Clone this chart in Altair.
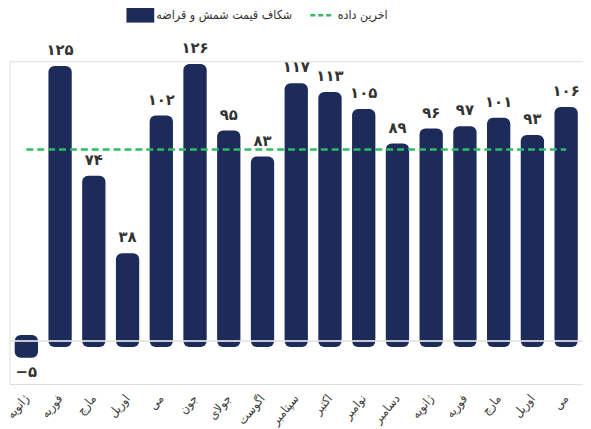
import json
import altair as alt
import pandas as pd

months = ["ژانویه", "فوریه", "مارچ", "اوریل", "می", "جون", "جولای", "اگوست",
          "سپتامبر", "اکتبر", "نوامبر", "دسامبر", "ژانویه", "فوریه", "مارچ", "اوریل", "می"]
gap_values = [-5, 125, 74, 38, 102, 126, 95, 83, 117, 113, 105, 89, 96, 97, 101, 93, 106]
latest_level = [89]
series_name = "شکاف قیمت شمش و قراضه"
latest_name = "اخرین داده"

NAVY = "#1c2b5a"
GREEN = "#2dbe60"
FONT = "DejaVu Sans"
COND_FONT = "DejaVu Sans Condensed, DejaVu Sans"

FA = str.maketrans("0123456789-", "۰۱۲۳۴۵۶۷۸۹−")


def fa(v):
    return str(v).translate(FA)


df = pd.DataFrame({
    "idx": list(range(len(months))),
    "month": months,
    "value": gap_values,
    "label": [fa(v) for v in gap_values],
    "series": [series_name] * len(months),
})
line_df = pd.DataFrame({
    "start": [0], "end": [len(months) - 1],
    "level": latest_level, "series": [latest_name],
})
zero_df = pd.DataFrame({"zero": [0]})

label_expr = json.dumps(months, ensure_ascii=False) + "[datum.value]"

x_enc = alt.X("idx:O",
              scale=alt.Scale(paddingInner=0.31, paddingOuter=0.155),
              axis=alt.Axis(title=None, labelExpr=label_expr, labelAngle=-50,
                            labelAlign="right", labelBaseline="middle",
                            labelPadding=12, ticks=False, domain=False,
                            labelFont=COND_FONT, labelFontSize=12.5,
                            labelFontWeight=500, labelColor="#3a3a3a"))
y_scale = alt.Scale(domain=[-20, 130], nice=False, zero=False)

# thin bar + thick round-joined stroke gives rounded bars that overhang both ends
bars = alt.Chart(df).mark_bar(size=11.5, stroke=NAVY, strokeWidth=12,
                              strokeJoin="round").encode(
    x=x_enc,
    y=alt.Y("value:Q", scale=y_scale, axis=None),
    y2=alt.datum(0),
    color=alt.Color("series:N", scale=alt.Scale(range=[NAVY]),
                    legend=alt.Legend(orient="none", legendX=118, legendY=-61,
                                      title=None,
                                      symbolType="M-1,-0.57H1V0.57H-1Z",
                                      symbolSize=784, symbolStrokeWidth=0,
                                      labelFont=COND_FONT, labelFontSize=12.5,
                                      labelLimit=400,
                                      labelColor="#333", labelOffset=2)),
)

zero_rule = alt.Chart(zero_df).mark_rule(color="#e4e4e4", strokeWidth=2, opacity=0.85).encode(
    y=alt.Y("zero:Q", scale=y_scale)
)

latest_rule = alt.Chart(line_df).mark_rule(strokeWidth=2.5, strokeDash=[7, 4]).encode(
    x=alt.X("start:O", bandPosition=0.5),
    x2=alt.X2("end", bandPosition=0.5),
    y=alt.Y("level:Q", scale=y_scale),
    color=alt.Color("series:N", scale=alt.Scale(range=[GREEN]),
                    legend=alt.Legend(orient="none", legendX=302, legendY=-59,
                                      title=None, symbolType="stroke",
                                      symbolSize=484, symbolStrokeWidth=2.5,
                                      symbolDash=[5, 3], labelLimit=400,
                                      labelFont=COND_FONT, labelFontSize=12.5,
                                      labelColor="#333", labelOffset=4)),
)

pos_labels = alt.Chart(df).transform_filter("datum.value >= 0").mark_text(
    baseline="bottom", dy=-14, font=FONT, fontSize=15, fontWeight="bold", color="#333"
).encode(
    x="idx:O",
    y=alt.Y("value:Q", scale=y_scale),
    text="label:N",
)

neg_labels = alt.Chart(df).transform_filter("datum.value < 0").mark_text(
    baseline="top", dy=14, font=FONT, fontSize=15, fontWeight="bold", color="#333"
).encode(
    x="idx:O",
    y=alt.Y("value:Q", scale=y_scale),
    text="label:N",
)

chart = alt.layer(bars, zero_rule, latest_rule, pos_labels, neg_labels).resolve_scale(
    color="independent"
).properties(
    width=578.5, height=325.5, autosize="none",
    padding={"left": 1.5, "top": 51.9, "right": 0, "bottom": 45},
).configure_view(stroke=None).configure(font=FONT)

chart.save("out.html", embed_options={"renderer": "svg", "actions": False})
